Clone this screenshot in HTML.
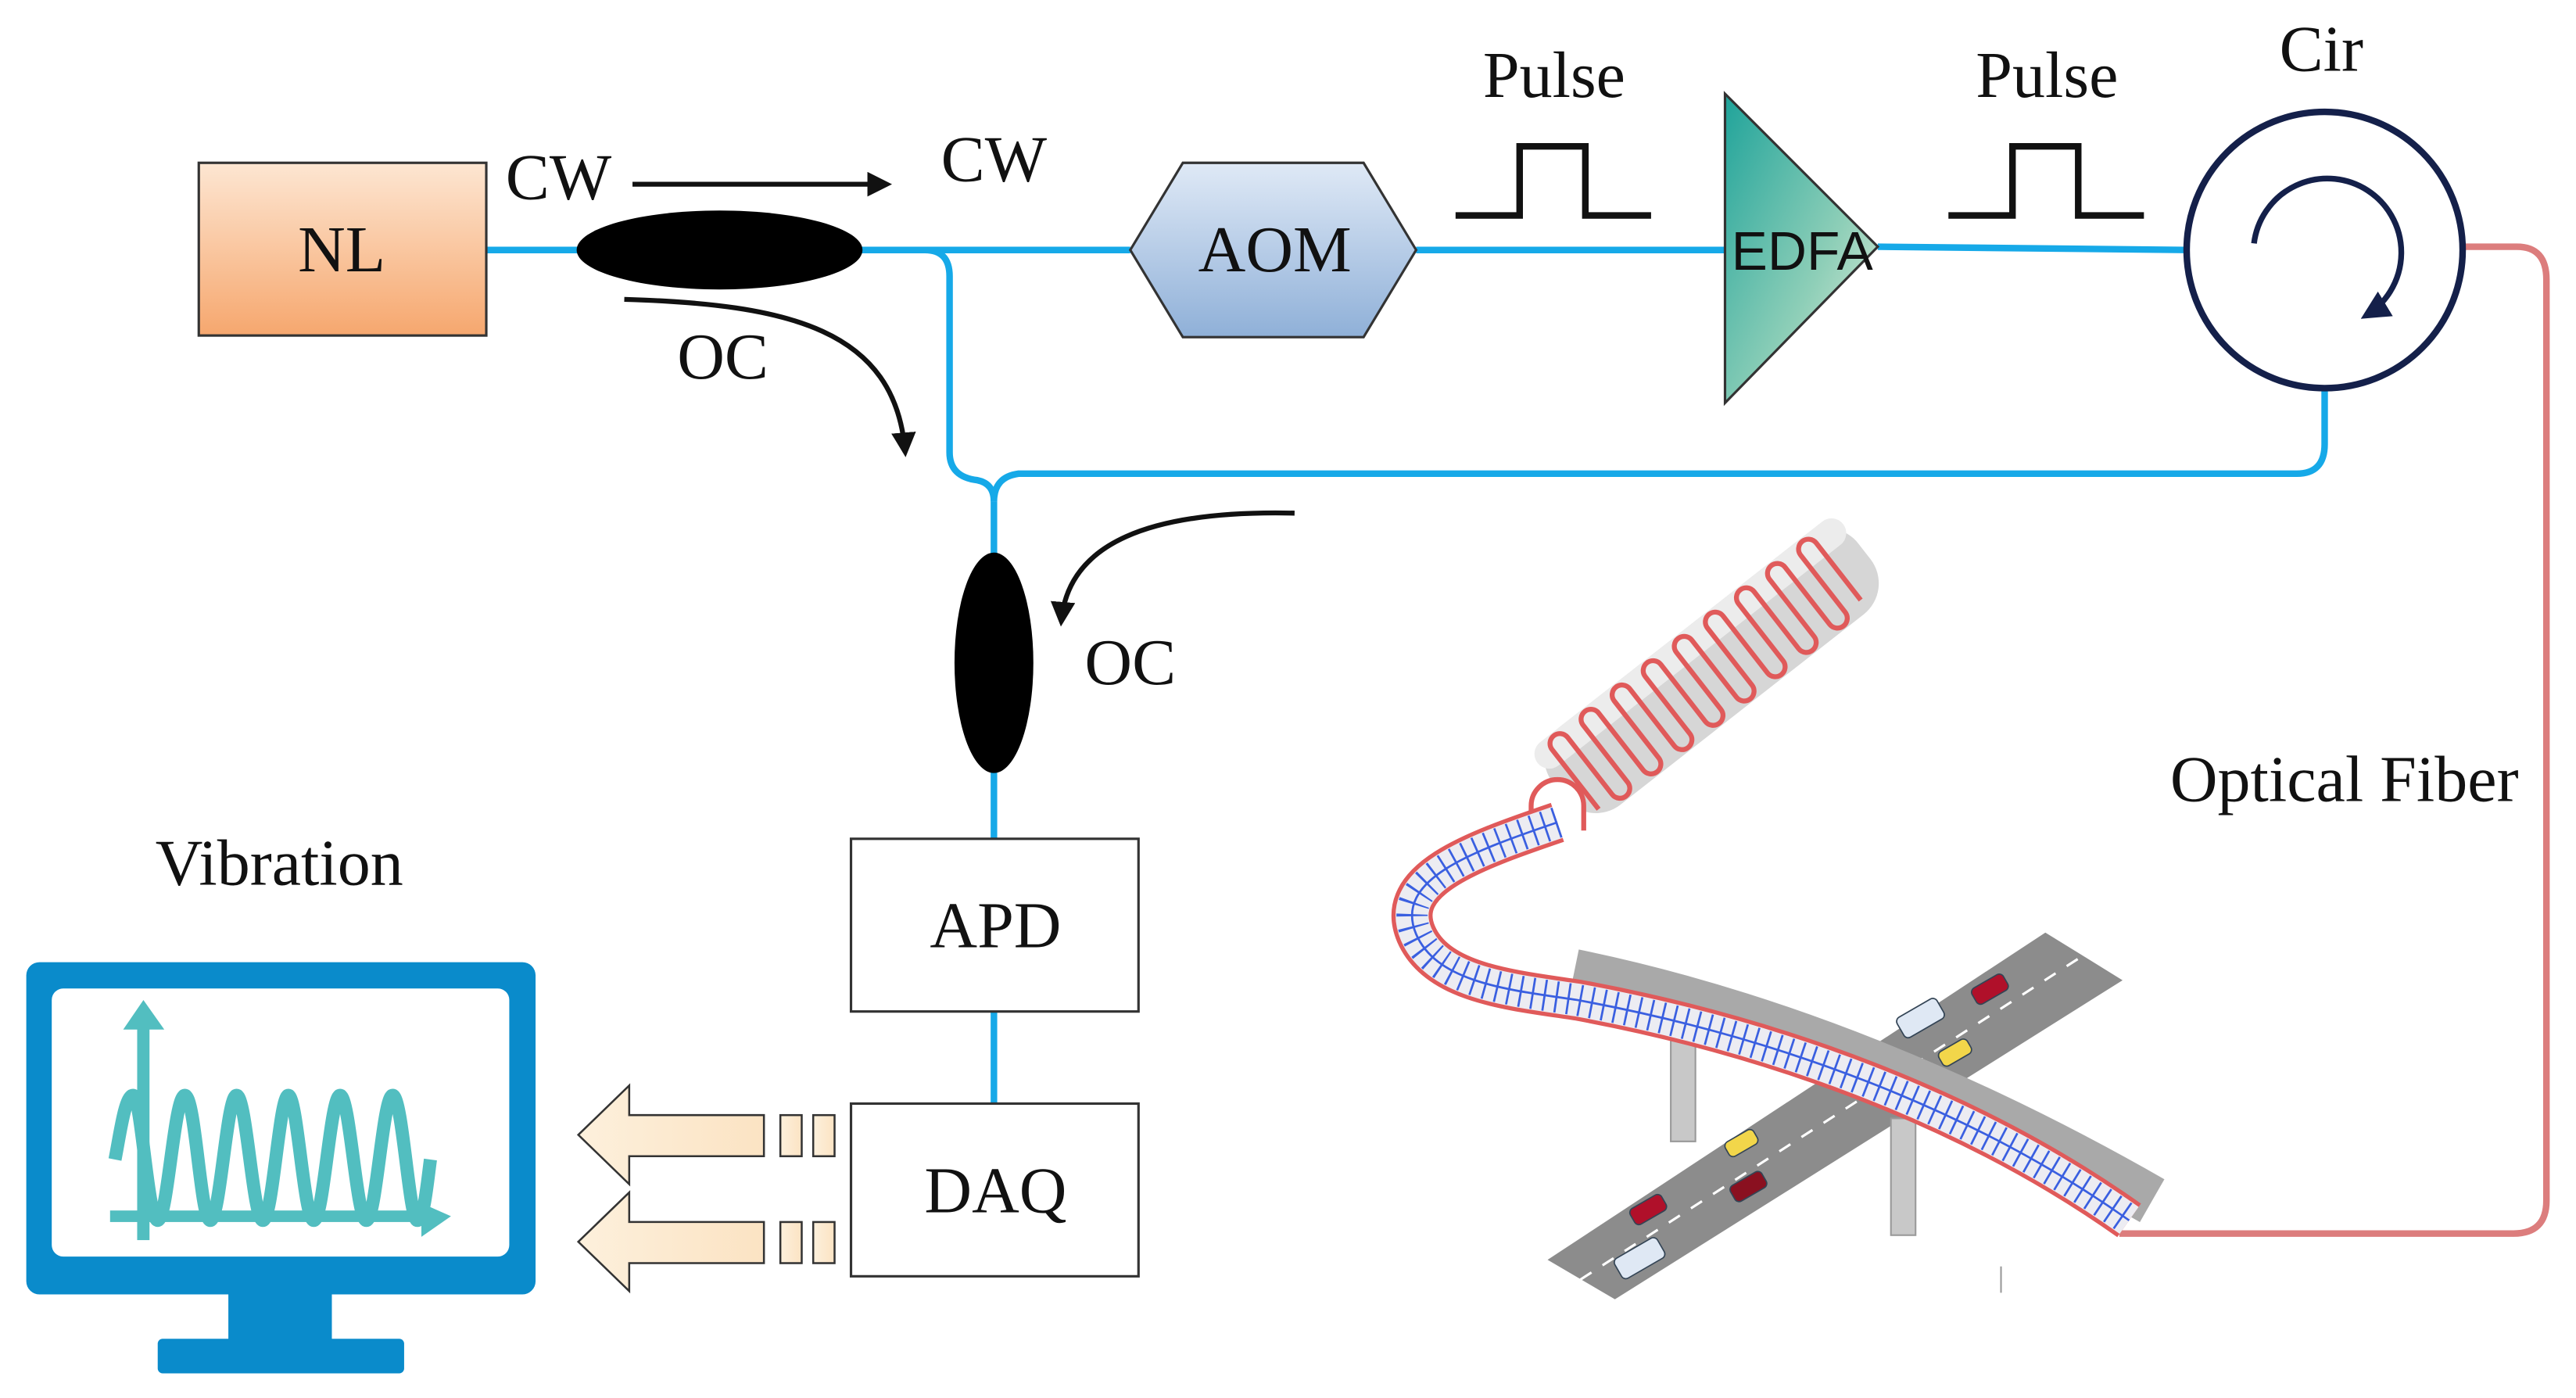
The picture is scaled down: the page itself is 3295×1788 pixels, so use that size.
<!DOCTYPE html>
<html><head><meta charset="utf-8"><style>
html,body{margin:0;padding:0;background:#fff;}
svg{display:block;}
text{font-family:"Liberation Serif",serif;fill:#111;}
</style></head><body>
<svg width="3295" height="1788" viewBox="0 0 1568 850" preserveAspectRatio="none" xmlns="http://www.w3.org/2000/svg">
<defs>
<linearGradient id="nl" x1="0" y1="0" x2="0" y2="1"><stop offset="0" stop-color="#fde6d2"/><stop offset="1" stop-color="#f6a76e"/></linearGradient>
<linearGradient id="aom" x1="0" y1="0" x2="0" y2="1"><stop offset="0" stop-color="#dfe9f6"/><stop offset="1" stop-color="#8fb0d8"/></linearGradient>
<linearGradient id="edfa" x1="0" y1="0" x2="1" y2="1"><stop offset="0" stop-color="#1fa39a"/><stop offset="0.6" stop-color="#8fcfb8"/><stop offset="1" stop-color="#e9efdf"/></linearGradient>
<linearGradient id="blk" x1="0" y1="0" x2="1" y2="0"><stop offset="0" stop-color="#fdf0dc"/><stop offset="1" stop-color="#fbe3c3"/></linearGradient>
<marker id="ah" viewBox="0 0 10 10" refX="8" refY="5" markerWidth="5" markerHeight="5" orient="auto"><path d="M0,0 L10,5 L0,10 z" fill="#111"/></marker>
<marker id="ah2" viewBox="0 0 10 10" refX="8" refY="5" markerWidth="5" markerHeight="5" orient="auto"><path d="M0,0 L10,5 L0,10 z" fill="#14204a"/></marker>
</defs>

<g fill="none" stroke="#16a9e8" stroke-width="4">
<path d="M296,152 H688"/>
<path d="M525,152 H563 Q578,152 578,168 V275 Q578,290 595,292 Q605,294 605,305"/>
<path d="M605,305 Q605,290 620,288 H1398 Q1415,288 1415,270 V237"/>
<path d="M605,305 V345"/>
<path d="M605,465 V510"/>
<path d="M605,615 V671"/>
<path d="M862,152 H1050"/>
<path d="M1143,150 L1333,152"/>
</g>
<path d="M1500,150 H1532 Q1550,150 1550,170 V730 Q1550,750 1530,750 H1290" fill="none" stroke="#dc7d7d" stroke-width="4"/>

<rect x="121" y="99" width="175" height="105" fill="url(#nl)" stroke="#333" stroke-width="1.5"/>
<text x="208" y="165" font-size="40" text-anchor="middle">NL</text>

<ellipse cx="438" cy="152" rx="87" ry="24" fill="#000"/>
<text x="340" y="121" font-size="40" text-anchor="middle">CW</text>
<path d="M385,112 H540" stroke="#111" stroke-width="3" marker-end="url(#ah)"/>
<text x="605" y="110" font-size="40" text-anchor="middle">CW</text>
<text x="440" y="230" font-size="40" text-anchor="middle">OC</text>
<path d="M380,182 C480,185 545,200 551,275" fill="none" stroke="#111" stroke-width="3" marker-end="url(#ah)"/>

<polygon points="688,152 720,99 830,99 862,152 830,205 720,205" fill="url(#aom)" stroke="#333" stroke-width="1.5"/>
<text x="776" y="165" font-size="40" text-anchor="middle">AOM</text>

<path d="M886,131 H925 V89 H965 V131 H1005" fill="none" stroke="#111" stroke-width="4"/>
<text x="946" y="59" font-size="40" text-anchor="middle">Pulse</text>
<path d="M1186,131 H1225 V89 H1265 V131 H1305" fill="none" stroke="#111" stroke-width="4"/>
<text x="1246" y="59" font-size="40" text-anchor="middle">Pulse</text>

<polygon points="1050,57 1050,245 1143,150" fill="url(#edfa)" stroke="#333" stroke-width="1.5"/>
<text x="1097" y="164" font-size="33" text-anchor="middle" style="font-family:'Liberation Sans',sans-serif">EDFA</text>

<circle cx="1415" cy="152" r="84" fill="#fff" stroke="#14204a" stroke-width="4"/>
<path d="M1372,148 A45,45 0 1 1 1440,192" fill="none" stroke="#14204a" stroke-width="3.5" marker-end="url(#ah2)"/>
<text x="1413" y="43" font-size="40" text-anchor="middle">Cir</text>

<ellipse cx="605" cy="403" rx="24" ry="67" fill="#000"/>
<path d="M788,312 C700,310 650,330 646,378" fill="none" stroke="#111" stroke-width="3" marker-end="url(#ah)"/>
<text x="688" y="416" font-size="40" text-anchor="middle">OC</text>

<rect x="518" y="510" width="175" height="105" fill="#fff" stroke="#333" stroke-width="1.5"/>
<text x="606" y="576" font-size="40" text-anchor="middle">APD</text>
<rect x="518" y="671" width="175" height="105" fill="#fff" stroke="#333" stroke-width="1.5"/>
<text x="606" y="737" font-size="40" text-anchor="middle">DAQ</text>

<g fill="url(#blk)" stroke="#333" stroke-width="1.2">
<polygon points="352,690 383,660 383,678 465,678 465,703 383,703 383,720"/>
<rect x="475" y="678" width="13" height="25"/><rect x="495" y="678" width="13" height="25"/>
<polygon points="352,755 383,725 383,743 465,743 465,768 383,768 383,785"/>
<rect x="475" y="743" width="13" height="25"/><rect x="495" y="743" width="13" height="25"/>
</g>

<text x="170" y="538" font-size="40" text-anchor="middle">Vibration</text>
<rect x="16" y="585" width="310" height="202" rx="8" fill="#0a8bcb"/>
<rect x="31.5" y="601" width="278.5" height="163" rx="7" fill="#fff"/>
<rect x="139" y="786" width="63" height="29" fill="#0a8bcb"/>
<rect x="96" y="814" width="150" height="21" rx="3" fill="#0a8bcb"/>
<g fill="#52bec0" stroke="none">
<rect x="83.5" y="624" width="7.5" height="130"/>
<polygon points="87.3,608 75,626 100,626"/>
<rect x="67" y="736" width="190" height="7"/>
<polygon points="274.5,739.5 256.5,731.5 256.5,752"/>
</g>
<path d="M70,705 C73,690 76,666 81,666 C86,666 90,742 96,742 C102,742 106,666 112.5,666 C119,666 122,742 128,742 C134,742 138,666 144,666 C150,666 154,742 160,742 C166,742 170,666 175.5,666 C181,666 185,742 191,742 C197,742 201,666 207,666 C213,666 217,742 223,742 C229,742 233,666 239,666 C245,666 249,742 254,742 C258,742 260,720 262,705" fill="none" stroke="#52bec0" stroke-width="8"/>

<text x="1427" y="487" font-size="40" text-anchor="middle">Optical Fiber</text>

<polygon points="942,766 1245,567 1292,596 983,790" fill="#8c8c8c"/>
<path d="M962,778 L1268,581" stroke="#fff" stroke-width="1.5" stroke-dasharray="8 8"/>
<rect x="1017" y="632" width="15" height="62" fill="#c8c8c8" stroke="#999" stroke-width="1"/>
<rect x="1151" y="680" width="15" height="71" fill="#c8c8c8" stroke="#999" stroke-width="1"/>
<g stroke="#345" stroke-width="0.8">
<rect x="1155" y="612" width="28" height="14" rx="3" fill="#dfe8f4" transform="rotate(-30 1169 619)"/>
<rect x="1200" y="596" width="22" height="11" rx="3" fill="#b0102a" transform="rotate(-30 1211 601)"/>
<rect x="1180" y="635" width="20" height="10" rx="3" fill="#f2d64a" transform="rotate(-30 1190 640)"/>
<rect x="1050" y="690" width="20" height="10" rx="3" fill="#f2d64a" transform="rotate(-30 1060 695)"/>
<rect x="1053" y="716" width="22" height="11" rx="3" fill="#8a1020" transform="rotate(-30 1064 721)"/>
<rect x="992" y="730" width="22" height="11" rx="3" fill="#b0102a" transform="rotate(-30 1003 735)"/>
<rect x="983" y="758" width="30" height="14" rx="3" fill="#dfe8f4" transform="rotate(-30 998 765)"/>
</g>

<g transform="translate(952,478) rotate(-38)">
<rect x="-4" y="-30" width="236" height="60" rx="24" fill="#d6d6d6"/>
<rect x="-4" y="-30" width="236" height="18" rx="9" fill="#ececec"/>
<path d="M8,24 V-22 a6,6 0 0 1 12,0 V22 a6,6 0 0 0 12,0 V-22 a6,6 0 0 1 12,0 V22 a6,6 0 0 0 12,0 V-22 a6,6 0 0 1 12,0 V22 a6,6 0 0 0 12,0 V-22 a6,6 0 0 1 12,0 V22 a6,6 0 0 0 12,0 V-22 a6,6 0 0 1 12,0 V22 a6,6 0 0 0 12,0 V-22 a6,6 0 0 1 12,0 V22 a6,6 0 0 0 12,0 V-22 a6,6 0 0 1 12,0 V22 a6,6 0 0 0 12,0 V-22 a6,6 0 0 1 12,0 V22 a6,6 0 0 0 12,0 V-22 a6,6 0 0 1 12,0 V22" fill="none" stroke="#e05a5a" stroke-width="3"/>
</g>
<path d="M932,505 V490 A16,16 0 0 1 964,490 V505" fill="#fff" stroke="#e05a5a" stroke-width="3"/>

<path d="M958,592 C1080,617 1200,667 1310,730" fill="none" stroke="#a9a9a9" stroke-width="30"/>
<path d="M948,500 C895,518 848,535 862,568 C875,598 920,602 960,608 C1080,630 1200,674 1296,742" fill="none" stroke="#e05a5a" stroke-width="25"/>
<path d="M948,500 C895,518 848,535 862,568 C875,598 920,602 960,608 C1080,630 1200,674 1296,742" fill="none" stroke="#ececf2" stroke-width="20"/>
<path d="M948,500 C895,518 848,535 862,568 C875,598 920,602 960,608 C1080,630 1200,674 1296,742" fill="none" stroke="#3a5fe0" stroke-width="19" stroke-dasharray="1.3 6"/>
<path d="M948,500 C895,518 848,535 862,568 C875,598 920,602 960,608 C1080,630 1200,674 1296,742" fill="none" stroke="#3a5fe0" stroke-width="1.3"/>
<line x1="1218" y1="770" x2="1218" y2="786" stroke="#999" stroke-width="1"/>
</svg>
</body></html>
